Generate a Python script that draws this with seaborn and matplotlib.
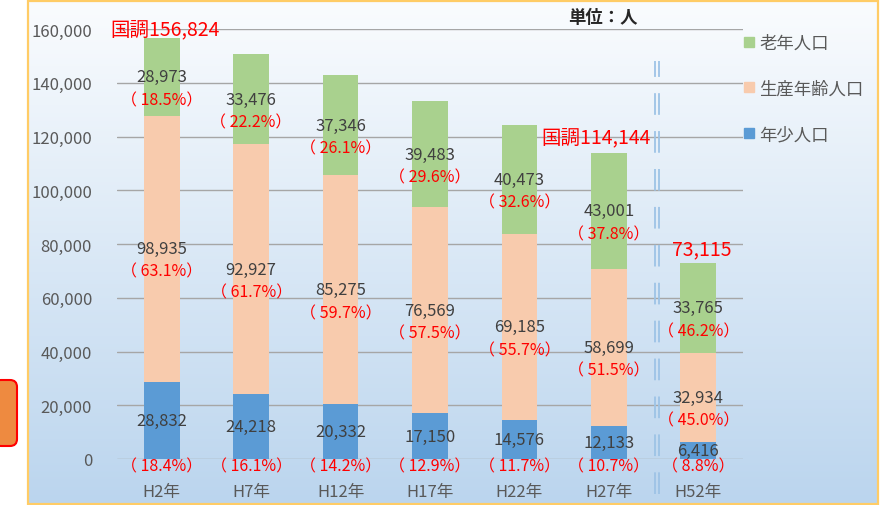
import numpy as np
import pandas as pd
import seaborn as sns
import matplotlib.pyplot as plt
from matplotlib.patches import Rectangle, FancyBboxPatch
from matplotlib.lines import Line2D

# data
years = ["H2年", "H7年", "H12年", "H17年", "H22年", "H27年", "H52年"]
young = [28832, 24218, 20332, 17150, 14576, 12133, 6416]
working = [98935, 92927, 85275, 76569, 69185, 58699, 32934]
old = [28973, 33476, 37346, 39483, 40473, 43001, 33765]
young_pct = [18.4, 16.1, 14.2, 12.9, 11.7, 10.7, 8.8]
working_pct = [63.1, 61.7, 59.7, 57.5, 55.7, 51.5, 45.0]
old_pct = [18.5, 22.2, 26.1, 29.6, 32.6, 37.8, 46.2]
total_idx = [0, 5, 6]
total_text = ["国調156,824", "国調114,144", "73,115"]
legend_labels = ["老年人口", "生産年齢人口", "年少人口"]

df = pd.DataFrame({"year": years, "young": young, "working": working, "old": old})
df["mid"] = df["young"] + df["working"]
df["top"] = df["mid"] + df["old"]

sns.set_style("white")
plt.rcParams["font.family"] = ["Noto Sans CJK JP", "DejaVu Sans"]

c_old, c_work, c_young = "#A9D18E", "#F8CBAD", "#5B9BD5"
gray, red = "#404040", "#FF0000"

W, H = 881, 506
fig = plt.figure(figsize=(W / 100, H / 100), dpi=100)

# gradient background with frame
bg = fig.add_axes([28 / W, 1 - 505 / H, 850 / W, 503 / H])
top_c = np.array([250, 252, 254]) / 255
bot_c = np.array([187, 213, 238]) / 255
t = np.linspace(0, 1, 256)[:, None]
grad = (top_c * (1 - t) + bot_c * t)[:, None, :]
bg.imshow(grad, aspect="auto", extent=[0, 1, 0, 1])
bg.axis("off")
fig.patches.append(Rectangle((28 / W, 1 - 505 / H), 850 / W, 503 / H, transform=fig.transFigure,
                             fill=False, edgecolor="#FFCC66", lw=1.6))

# orange tab at left edge
fig.patches.append(FancyBboxPatch((-0.06, (H - 447) / 100), 0.23, 0.66, transform=fig.dpi_scale_trans,
                                  boxstyle="round,pad=0,rounding_size=0.07",
                                  facecolor="#EE8A40", edgecolor="#FF0000", lw=1.5))

ax = fig.add_axes([117 / W, 46 / H, 626 / W, 430 / H])
ax.patch.set_alpha(0)

for col, c in [("top", c_old), ("mid", c_work), ("young", c_young)]:
    sns.barplot(data=df, x="year", y=col, color=c, width=0.4, saturation=1, ax=ax,
                linewidth=0, edgecolor="none", zorder=2)

ax.set_xlim(-0.5, 6.5)
ax.set_ylim(0, 160000)
ax.set_yticks(range(0, 160001, 20000))
ax.set_yticklabels([f"{v:,}" for v in range(0, 160001, 20000)])
ax.yaxis.grid(True, color="#A6A6A6", lw=1)
ax.set_axisbelow(True)
sns.despine(ax=ax, left=True, bottom=True)
ax.tick_params(axis="y", length=0, pad=18, labelcolor="#595959", labelsize=12)
ax.tick_params(axis="x", length=0, pad=17, labelcolor="#595959", labelsize=12)
ax.set_xlabel("")
ax.set_ylabel("")


def pct_text(p):
    return f"（ {p:.1f}%）"


# segment labels
shift = 8500
for i in range(len(years)):
    yc = young[i] / 2
    wc = young[i] + working[i] / 2
    oc = young[i] + working[i] + old[i] / 2
    for val, pct, yy in [(old[i], old_pct[i], oc), (working[i], working_pct[i], wc)]:
        ax.text(i, yy, f"{val:,}", ha="center", va="center", fontsize=12, color=gray, zorder=5)
        ax.text(i, yy - shift, pct_text(pct), ha="center", va="center", fontsize=11.5, color=red, zorder=5)
    ax.text(i, yc, f"{young[i]:,}", ha="center", va="center", fontsize=12, color=gray, zorder=5)
    ax.text(i, -2700, pct_text(young_pct[i]), ha="center", va="center", fontsize=11.5, color=red,
            zorder=5, clip_on=False)

# census totals
offsets = [(3, 9), (-13, 16), (3, 14)]
for k, i in enumerate(total_idx):
    ax.annotate(total_text[k], (i, df["top"][i]), xytext=offsets[k], textcoords="offset pixels",
                ha="center", va="center", fontsize=14, color=red, zorder=5, annotation_clip=False)

# dashed separator before the projection
for xs in (5.516, 5.56):
    ax.plot([xs, xs], [-13000, 148000], color="#9DC3E6", lw=1.3, dashes=(12, 9),
            clip_on=False, zorder=4)

fig.text(603 / W, 1 - 18 / H, "単位：人", ha="center", va="center", fontsize=12.5,
         fontweight="bold", color="#262626")

handles = [Line2D([], [], marker="s", ls="", markersize=7, color=c) for c in (c_old, c_work, c_young)]
fig.legend(handles, legend_labels, loc="upper left", bbox_to_anchor=(726 / W, 1 - 19 / H),
           frameon=False, fontsize=12.5, labelspacing=1.6, handletextpad=0.2, handlelength=0.8,
           labelcolor="#595959")

fig.savefig("out.png", dpi=100)
